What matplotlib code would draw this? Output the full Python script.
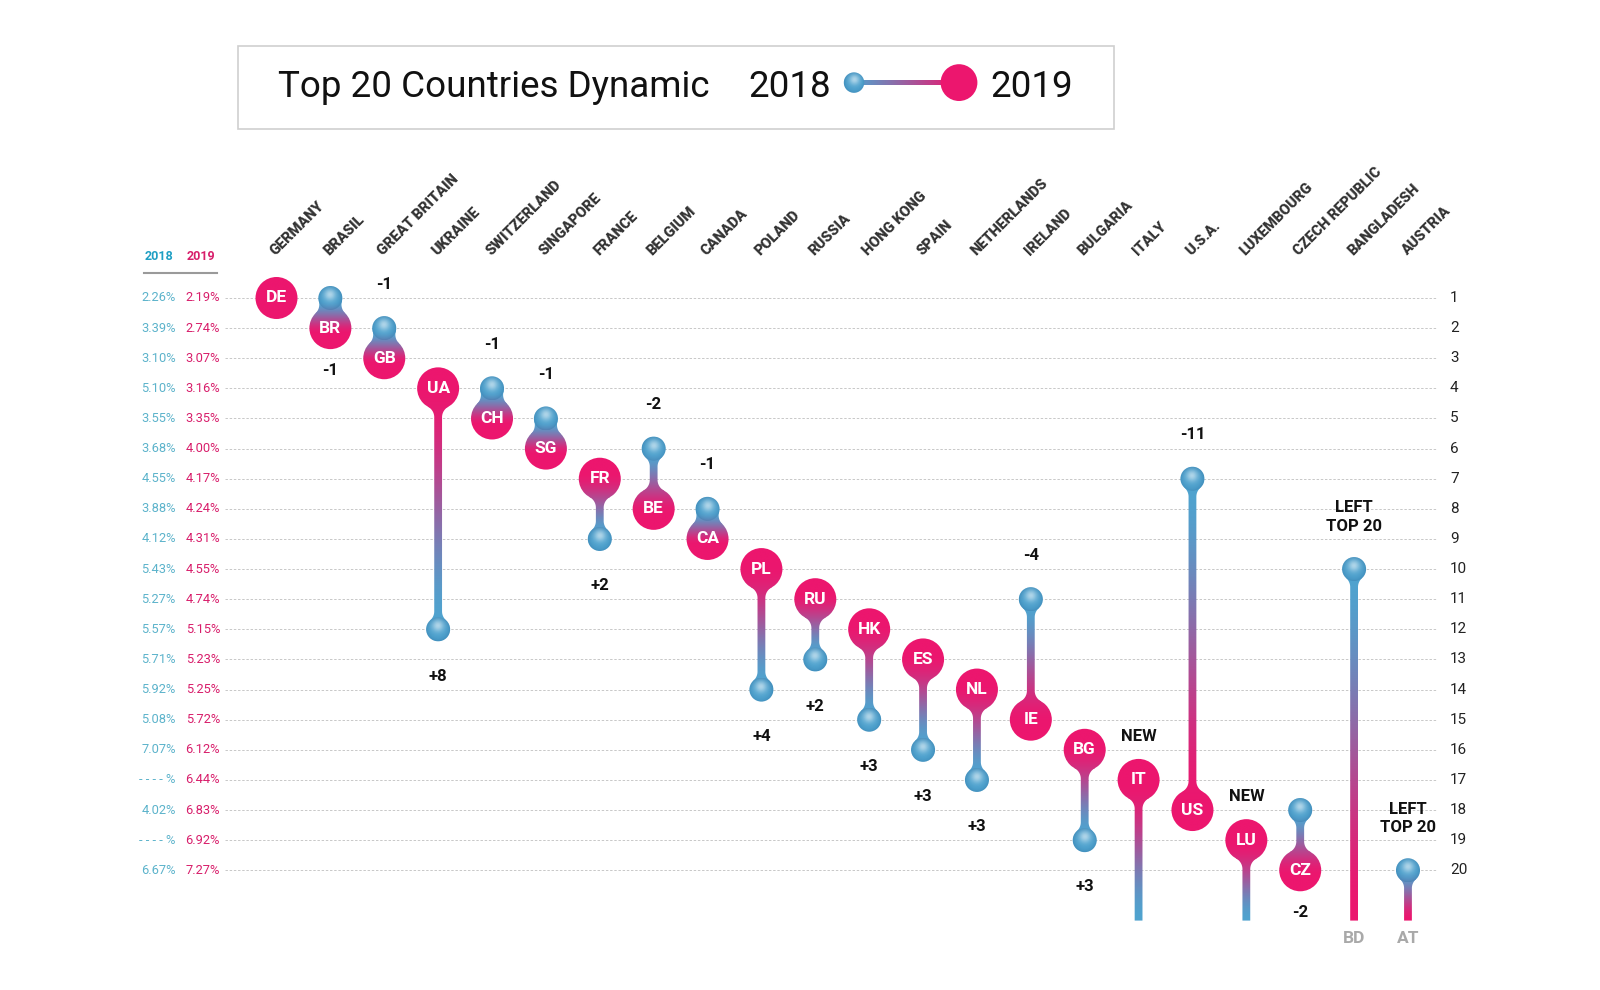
import numpy as np
import matplotlib.pyplot as plt
from matplotlib.patches import Ellipse, Polygon, Rectangle

plt.rcParams['font.family'] = ['Roboto', 'DejaVu Sans']

# ---- data -------------------------------------------------------------
codes = ['DE', 'BR', 'GB', 'UA', 'CH', 'SG', 'FR', 'BE', 'CA', 'PL', 'RU',
         'HK', 'ES', 'NL', 'IE', 'BG', 'IT', 'US', 'LU', 'CZ', 'BD', 'AT']
names = ['GERMANY', 'BRASIL', 'GREAT BRITAIN', 'UKRAINE', 'SWITZERLAND',
         'SINGAPORE', 'FRANCE', 'BELGIUM', 'CANADA', 'POLAND', 'RUSSIA',
         'HONG KONG', 'SPAIN', 'NETHERLANDS', 'IRELAND', 'BULGARIA', 'ITALY',
         'U.S.A.', 'LUXEMBOURG', 'CZECH REPUBLIC', 'BANGLADESH', 'AUSTRIA']
rank_2018 = [1, 1, 2, 12, 4, 5, 9, 6, 8, 14, 13, 15, 16, 17, 11, 19,
             None, 7, None, 18, 10, 20]
rank_2019 = [1, 2, 3, 4, 5, 6, 7, 8, 9, 10, 11, 12, 13, 14, 15, 16,
             17, 18, 19, 20, None, None]
note_below = ['BR', 'CZ']   # drops that are annotated under the marker

ranks = list(range(1, 21))
pct_2018 = [2.26, 3.39, 3.10, 5.10, 3.55, 3.68, 4.55, 3.88, 4.12, 5.43,
            5.27, 5.57, 5.71, 5.92, 5.08, 7.07, None, 4.02, None, 6.67]
pct_2019 = [2.19, 2.74, 3.07, 3.16, 3.35, 4.00, 4.17, 4.24, 4.31, 4.55,
            4.74, 5.15, 5.23, 5.25, 5.72, 6.12, 6.44, 6.83, 6.92, 7.27]

# ---- layout -----------------------------------------------------------
BLUE = np.array([79, 163, 207]) / 255
PINK = np.array([236, 22, 110]) / 255
W, H = 1600, 990
COL0, COL_STEP = 276.5, 53.88     # px of first column, px per column
ROW0, ROW_STEP = 298.0, 30.12     # px of rank 1, px per rank
R_BIG, R_SMALL, STEM, FILLET = 21.0, 12.0, 3.9, 12.0
BOTTOM = 21.67


def X(px):
    return (px - COL0) / COL_STEP


def Y(py):
    return 1 + (py - ROW0) / ROW_STEP


def dx(p):
    return p / COL_STEP


def dy(p):
    return p / ROW_STEP


fig = plt.figure(figsize=(16, 9.9), dpi=100)
ax = fig.add_axes([0, 0, 1, 1])
ax.set_axis_off()


def circle(c, y, r):
    return Ellipse((c, y), 2 * dx(r), 2 * dy(r), transform=ax.transData)


def stem_fillet(yc, r, ys, direction):
    d = (ys - yc) * ROW_STEP * direction
    f = FILLET
    yf = np.sqrt((r + f) ** 2 - (STEM + f) ** 2)
    yt = yf * r / (r + f)
    xt = (STEM + f) * r / (r + f)
    hw = np.full_like(ys, STEM)
    hw[d < yt] = xt
    m = (d >= yt) & (d <= yf)
    hw[m] = STEM + f - np.sqrt(np.maximum(f ** 2 - (d[m] - yf) ** 2, 0))
    return hw


def neck_fillet(y1, r1, y2, r2, ys):
    f = FILLET
    D = (y2 - y1) * ROW_STEP
    a = ((r1 + f) ** 2 - (r2 + f) ** 2 + D ** 2) / (2 * D)
    if a ** 2 >= (r1 + f) ** 2:
        return np.zeros_like(ys)
    xf = np.sqrt((r1 + f) ** 2 - a ** 2)
    t1, x1 = a * r1 / (r1 + f), xf * r1 / (r1 + f)
    t2, x2 = D + (a - D) * r2 / (r2 + f), xf * r2 / (r2 + f)
    d = (ys - y1) * ROW_STEP
    hw = np.where(d < t1, x1, x2)
    m = (d >= t1) & (d <= t2)
    hw[m] = xf - np.sqrt(np.maximum(f ** 2 - (d[m] - a) ** 2, 0))
    return hw


def stem(c, y_top, y_bot, ends):
    ys = np.linspace(y_top, y_bot, 300)
    hw = np.full_like(ys, STEM)
    for yc, r, direction in ends:
        hw = np.maximum(hw, stem_fillet(yc, r, ys, direction))
    if len(ends) == 2:
        hw = np.maximum(hw, neck_fillet(ends[0][0], ends[0][1],
                                        ends[1][0], ends[1][1], ys))
    left = np.column_stack([c - dx(hw), ys])
    right = np.column_stack([c + dx(hw), ys])[::-1]
    return Polygon(np.concatenate([left, right]), closed=True,
                   transform=ax.transData)


def fill_gradient(pieces, c, y_top, y_bot, y_blue, y_pink, z=3):
    ys = np.linspace(y_top, y_bot, 400)
    if y_blue == y_pink:
        t = np.ones_like(ys)
    else:
        t = np.clip((ys - y_blue) / (y_pink - y_blue), 0, 1)
        t = t * t * (3 - 2 * t)
    img = (BLUE[None, :] * (1 - t[:, None]) + PINK[None, :] * t[:, None])
    img = img[:, None, :]
    for p in pieces:
        im = ax.imshow(img, extent=(c - 0.5, c + 0.5, y_bot, y_top),
                       origin='upper', aspect='auto',
                       interpolation='bilinear', zorder=z)
        im.set_clip_path(p)


def gloss(c, y, r):
    n = 80
    g = np.linspace(-1, 1, n)
    gx, gy = np.meshgrid(g, g)
    hl = np.exp(-((gx ** 2 + (gy + 0.3) ** 2) / 0.5 ** 2))
    rim = np.clip(np.sqrt(gx ** 2 + gy ** 2), 0, 1) ** 4
    rgba = np.zeros((n, n, 4))
    rgba[..., :3] = 1.0
    rgba[..., 3] = 0.55 * hl
    ext = (c - dx(r), c + dx(r), y + dy(r), y - dy(r))
    im = ax.imshow(rgba, extent=ext, origin='upper', aspect='auto',
                   interpolation='bilinear', zorder=4)
    im.set_clip_path(circle(c, y, r))
    dark = np.zeros((n, n, 4))
    dark[..., 0:3] = np.array([30, 90, 140]) / 255
    dark[..., 3] = 0.25 * rim
    im = ax.imshow(dark, extent=ext, origin='upper', aspect='auto',
                   interpolation='bilinear', zorder=4)
    im.set_clip_path(circle(c, y, r))


note_kw = dict(ha='center', va='center', fontsize=12, fontweight='bold',
               color='#111111', zorder=6)

# ---- markers ----------------------------------------------------------
for i, code in enumerate(codes):
    c = i
    r18, r19 = rank_2018[i], rank_2019[i]
    if r18 is not None and r19 is not None:
        if r18 == r19:
            fill_gradient([circle(c, r19, R_BIG)], c, r19 - 1, r19 + 1,
                          r19, r19)
        else:
            direction = 1 if r19 > r18 else -1
            big = (r19, R_BIG)
            small = (r18, R_SMALL)
            top, bot = (small, big) if direction == 1 else (big, small)
            pieces = [circle(c, small[0], R_SMALL), circle(c, big[0], R_BIG),
                      stem(c, top[0], bot[0],
                           [(top[0], top[1], 1), (bot[0], bot[1], -1)])]
            y_top = top[0] - dy(top[1]) - 0.2
            y_bot = bot[0] + dy(bot[1]) + 0.2
            fill_gradient(pieces, c, y_top, y_bot,
                          r18 + direction * dy(0.3 * R_SMALL),
                          r19 + direction * dy(0.3 * R_BIG))
            gloss(c, r18, R_SMALL)
            diff = r18 - r19
            if diff < 0 and code not in note_below:
                ny = r18 - 1.46
            elif diff < 0:
                ny = r19 + 1.4
            else:
                ny = r18 + 1.55
            ax.text(c, ny, f'{diff:+d}' if diff > 0 else f'{diff:d}',
                    **note_kw)
        ax.text(c, r19, code, ha='center', va='center', fontsize=12.5,
                fontweight='bold', color='white', zorder=6)
    elif r18 is None:
        pieces = [circle(c, r19, R_BIG),
                  stem(c, r19, BOTTOM, [(r19, R_BIG, 1)])]
        fill_gradient(pieces, c, r19 - 1, BOTTOM, BOTTOM, r19)
        ax.text(c, r19, code, ha='center', va='center', fontsize=12.5,
                fontweight='bold', color='white', zorder=6)
        ax.text(c, r19 - 1.45, 'NEW', **note_kw)
    else:
        pieces = [circle(c, r18, R_SMALL),
                  stem(c, r18, BOTTOM, [(r18, R_SMALL, 1)])]
        fill_gradient(pieces, c, r18 - 1, BOTTOM, r18, BOTTOM)
        gloss(c, r18, R_SMALL)
        ax.text(c, r18 - 1.72, 'LEFT\nTOP 20', multialignment='center',
                linespacing=1.3, **note_kw)
        ax.text(c, 22.28, code, ha='center', va='center', fontsize=12.5,
                fontweight='bold', color='#a9a9a9', zorder=6)

# ---- grid, axes labels ----------------------------------------------
ax.hlines(ranks, X(225), X(1437), colors='#c8c8c8',
          linestyles=(0, (2.5, 1.8)), lw=0.7, zorder=1)
for r, p18, p19 in zip(ranks, pct_2018, pct_2019):
    ax.text(X(1450), r, str(r), ha='left', va='center', fontsize=11,
            color='#222222')
    s18 = f'{p18:.2f}%' if p18 is not None else '- - - - %'
    ax.text(X(175.7), r, s18, ha='right', va='center', fontsize=9.3,
            color='#5cb3cb')
    ax.text(X(220), r, f'{p19:.2f}%', ha='right', va='center', fontsize=9.3,
            color='#d81e6b')

ax.text(X(158.7), Y(257), '2018', ha='center', va='center', fontsize=9,
        fontweight='bold', color='#1f9fc4')
ax.text(X(200.5), Y(257), '2019', ha='center', va='center', fontsize=9,
        fontweight='bold', color='#d81e6b')
ax.plot([X(144), X(217)], [Y(272.7), Y(272.7)], color='#9a9a9a', lw=1.5)

for i, name in enumerate(names):
    ax.text(i - dx(1), Y(256), name, rotation=45, rotation_mode='anchor',
            ha='left', va='baseline', fontsize=10.5, fontweight='black',
            color='#333333')

# ---- title box with legend glyph ------------------------------------
ax.add_patch(Rectangle((X(237.8), Y(45.9)), X(1114.3) - X(237.8),
                       Y(128.6) - Y(45.9), fill=False, edgecolor='#cfcfcf',
                       lw=1.2, zorder=2))
ax.text(X(277.6), Y(97.5), 'Top 20 Countries Dynamic', ha='left',
        va='baseline', fontsize=26.5, color='#111111')
ax.text(X(748), Y(97.5), '2018', ha='left', va='baseline', fontsize=26.5,
        color='#111111')
ax.text(X(990), Y(97.5), '2019', ha='left', va='baseline', fontsize=26.5,
        color='#111111')
lx0, lx1, ly = 854, 959, 82.6
t = np.linspace(0, 1, 200)
bar = (BLUE[None, :] * (1 - t[:, None]) + PINK[None, :] * t[:, None])[None]
ax.imshow(bar, extent=(X(lx0), X(lx1), Y(ly + 2.3), Y(ly - 2.3)),
          origin='upper', aspect='auto', interpolation='bilinear', zorder=3)
ax.add_patch(Ellipse((X(lx0), Y(ly)), 2 * dx(10.2), 2 * dy(10.2),
                     facecolor=BLUE, edgecolor='none', zorder=4))
gloss(X(lx0), Y(ly), 10.2)
ax.add_patch(Ellipse((X(lx1), Y(ly)), 2 * dx(18.4), 2 * dy(18.4),
                     facecolor=PINK, edgecolor='none', zorder=4))

ax.set_xlim(X(0), X(W))
ax.set_ylim(Y(H), Y(0))
fig.savefig('out.png', dpi=100)
